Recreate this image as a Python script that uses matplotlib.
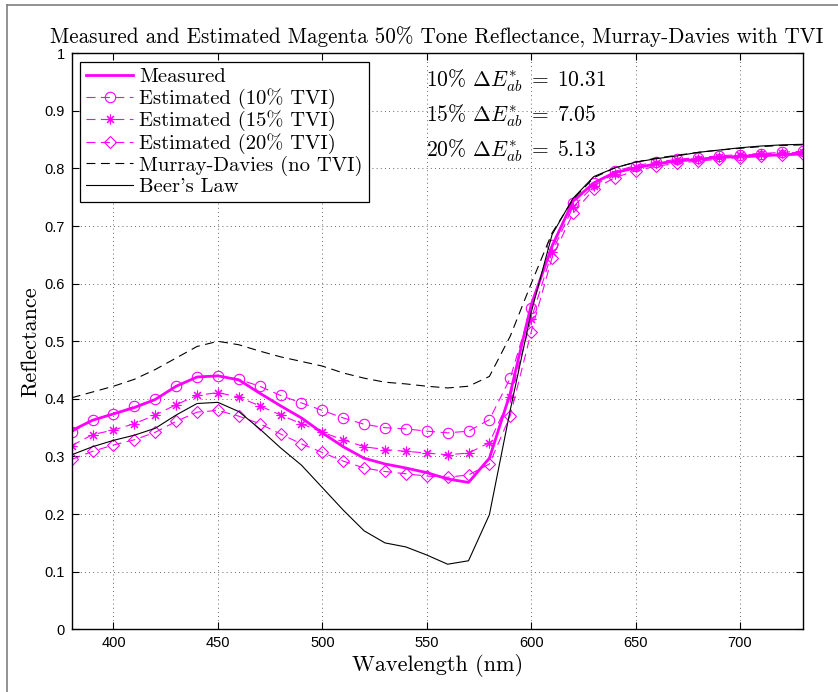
import numpy as np
import matplotlib
matplotlib.use('Agg')
import matplotlib.pyplot as plt
from matplotlib.lines import Line2D

# spectral data, 10 nm steps
wavelength = [380, 390, 400, 410, 420, 430, 440, 450, 460, 470, 480, 490,
              500, 510, 520, 530, 540, 550, 560, 570, 580, 590, 600, 610,
              620, 630, 640, 650, 660, 670, 680, 690, 700, 710, 720, 730]

measured = [0.345, 0.363, 0.374, 0.385, 0.399, 0.422, 0.438, 0.440, 0.433, 0.410, 0.388, 0.367,
            0.341, 0.317, 0.297, 0.287, 0.280, 0.272, 0.261, 0.255, 0.297, 0.410, 0.563, 0.665,
            0.743, 0.775, 0.793, 0.801, 0.808, 0.813, 0.816, 0.819, 0.821, 0.822, 0.824, 0.825]

est_10 = [0.342, 0.363, 0.374, 0.387, 0.399, 0.422, 0.438, 0.440, 0.434, 0.422, 0.406, 0.393,
          0.380, 0.367, 0.356, 0.350, 0.348, 0.344, 0.341, 0.344, 0.364, 0.436, 0.558, 0.668,
          0.740, 0.775, 0.795, 0.805, 0.811, 0.816, 0.819, 0.822, 0.824, 0.826, 0.828, 0.830]

est_15 = [0.319, 0.338, 0.346, 0.357, 0.372, 0.390, 0.406, 0.411, 0.403, 0.388, 0.372, 0.357,
          0.342, 0.329, 0.317, 0.312, 0.309, 0.306, 0.303, 0.306, 0.324, 0.403, 0.538, 0.655,
          0.733, 0.770, 0.791, 0.802, 0.809, 0.814, 0.817, 0.820, 0.823, 0.825, 0.827, 0.828]

est_20 = [0.295, 0.309, 0.320, 0.329, 0.342, 0.361, 0.377, 0.380, 0.370, 0.357, 0.339, 0.322,
          0.307, 0.292, 0.280, 0.274, 0.270, 0.266, 0.264, 0.268, 0.287, 0.371, 0.516, 0.645,
          0.722, 0.764, 0.784, 0.796, 0.804, 0.809, 0.813, 0.816, 0.819, 0.821, 0.823, 0.825]

murray_davies = [0.402, 0.412, 0.422, 0.434, 0.451, 0.471, 0.491, 0.500, 0.494, 0.483, 0.473, 0.465,
                 0.457, 0.445, 0.436, 0.429, 0.426, 0.422, 0.419, 0.422, 0.439, 0.509, 0.600, 0.688,
                 0.746, 0.784, 0.801, 0.811, 0.818, 0.823, 0.828, 0.832, 0.835, 0.838, 0.840, 0.841]

beers_law = [0.303, 0.317, 0.328, 0.337, 0.349, 0.372, 0.392, 0.394, 0.378, 0.348, 0.315, 0.285,
             0.246, 0.207, 0.171, 0.150, 0.143, 0.129, 0.113, 0.119, 0.199, 0.381, 0.550, 0.685,
             0.748, 0.786, 0.801, 0.811, 0.817, 0.822, 0.828, 0.832, 0.836, 0.839, 0.841, 0.842]

delta_e = [('10', '10.31'), ('15', '7.05'), ('20', '5.13')]

plt.rcParams['mathtext.fontset'] = 'cm'
serif = 'cmr10'
tickfont = 'Liberation Sans'
mag = '#ff00ff'

fig = plt.figure(figsize=(8.38, 6.92), dpi=100)
ax = fig.add_axes([0.0856, 0.0906, 0.8722, 0.8324])

# figure border (only left and top show in the crop)
fig.add_artist(Line2D([7/838, 7/838], [0, 1 - 5/692], transform=fig.transFigure, color='#7f7f7f', lw=1.2))
fig.add_artist(Line2D([7/838, 1], [1 - 5/692, 1 - 5/692], transform=fig.transFigure, color='#7f7f7f', lw=1.2))

dash = (0, (8, 5))
ax.plot(wavelength, measured, color=mag, lw=2, label='Measured')
ax.plot(wavelength, est_10, color=mag, lw=0.8, linestyle=dash, marker='o', ms=7.5,
        mfc='none', mec=mag, mew=0.8, label='Estimated (10% TVI)')
ax.plot(wavelength, est_15, color=mag, lw=0.8, linestyle=dash, marker=(8, 2, 0), ms=7,
        mec=mag, mew=0.8, label='Estimated (15% TVI)')
ax.plot(wavelength, est_20, color=mag, lw=0.8, linestyle=dash, marker='D', ms=6.5,
        mfc='none', mec=mag, mew=0.8, label='Estimated (20% TVI)')
ax.plot(wavelength, murray_davies, color='black', lw=0.8, linestyle=dash, label='Murray-Davies (no TVI)')
ax.plot(wavelength, beers_law, color='black', lw=0.8, label="Beer's Law")

ax.set_xlim(380, 730)
ax.set_ylim(0, 1)
ax.set_xticks([400, 450, 500, 550, 600, 650, 700])
ax.set_yticks(np.arange(0, 1.01, 0.1))
ax.set_yticklabels(['0', '0.1', '0.2', '0.3', '0.4', '0.5', '0.6', '0.7', '0.8', '0.9', '1'])
ax.tick_params(direction='in', length=5, width=0.8, top=True, right=True, labelsize=10.5, pad=5)
for lab in ax.get_xticklabels() + ax.get_yticklabels():
    lab.set_fontfamily(tickfont)
ax.grid(True, linestyle=(0, (1, 4)), color='black', lw=0.6, alpha=0.8)
for s in ax.spines.values():
    s.set_linewidth(1.0)

ax.set_title('Measured and Estimated Magenta 50% Tone Reflectance, Murray-Davies with TVI',
             fontfamily=serif, fontsize=15.2, pad=7)
ax.set_xlabel('Wavelength (nm)', fontfamily=serif, fontsize=16, labelpad=3)
ax.set_ylabel('Reflectance', fontfamily=serif, fontsize=16, labelpad=3)

for i, (tvi, de) in enumerate(delta_e):
    ax.text(549.5, 0.952 - i * 0.061, r'%s%% $\Delta E^{*}_{ab} \;=\; %s$' % (tvi, de),
            fontfamily=serif, fontsize=15.5, va='center', ha='left')

leg = ax.legend(loc='upper left', bbox_to_anchor=(0.011, 0.985), prop={'family': serif, 'size': 14.8},
                frameon=True, fancybox=False, edgecolor='black', framealpha=1,
                handlelength=2.3, handletextpad=0.3, labelspacing=0.08, borderpad=0.3, borderaxespad=0)
leg.get_frame().set_linewidth(0.9)

fig.savefig('out.png', dpi=100)
